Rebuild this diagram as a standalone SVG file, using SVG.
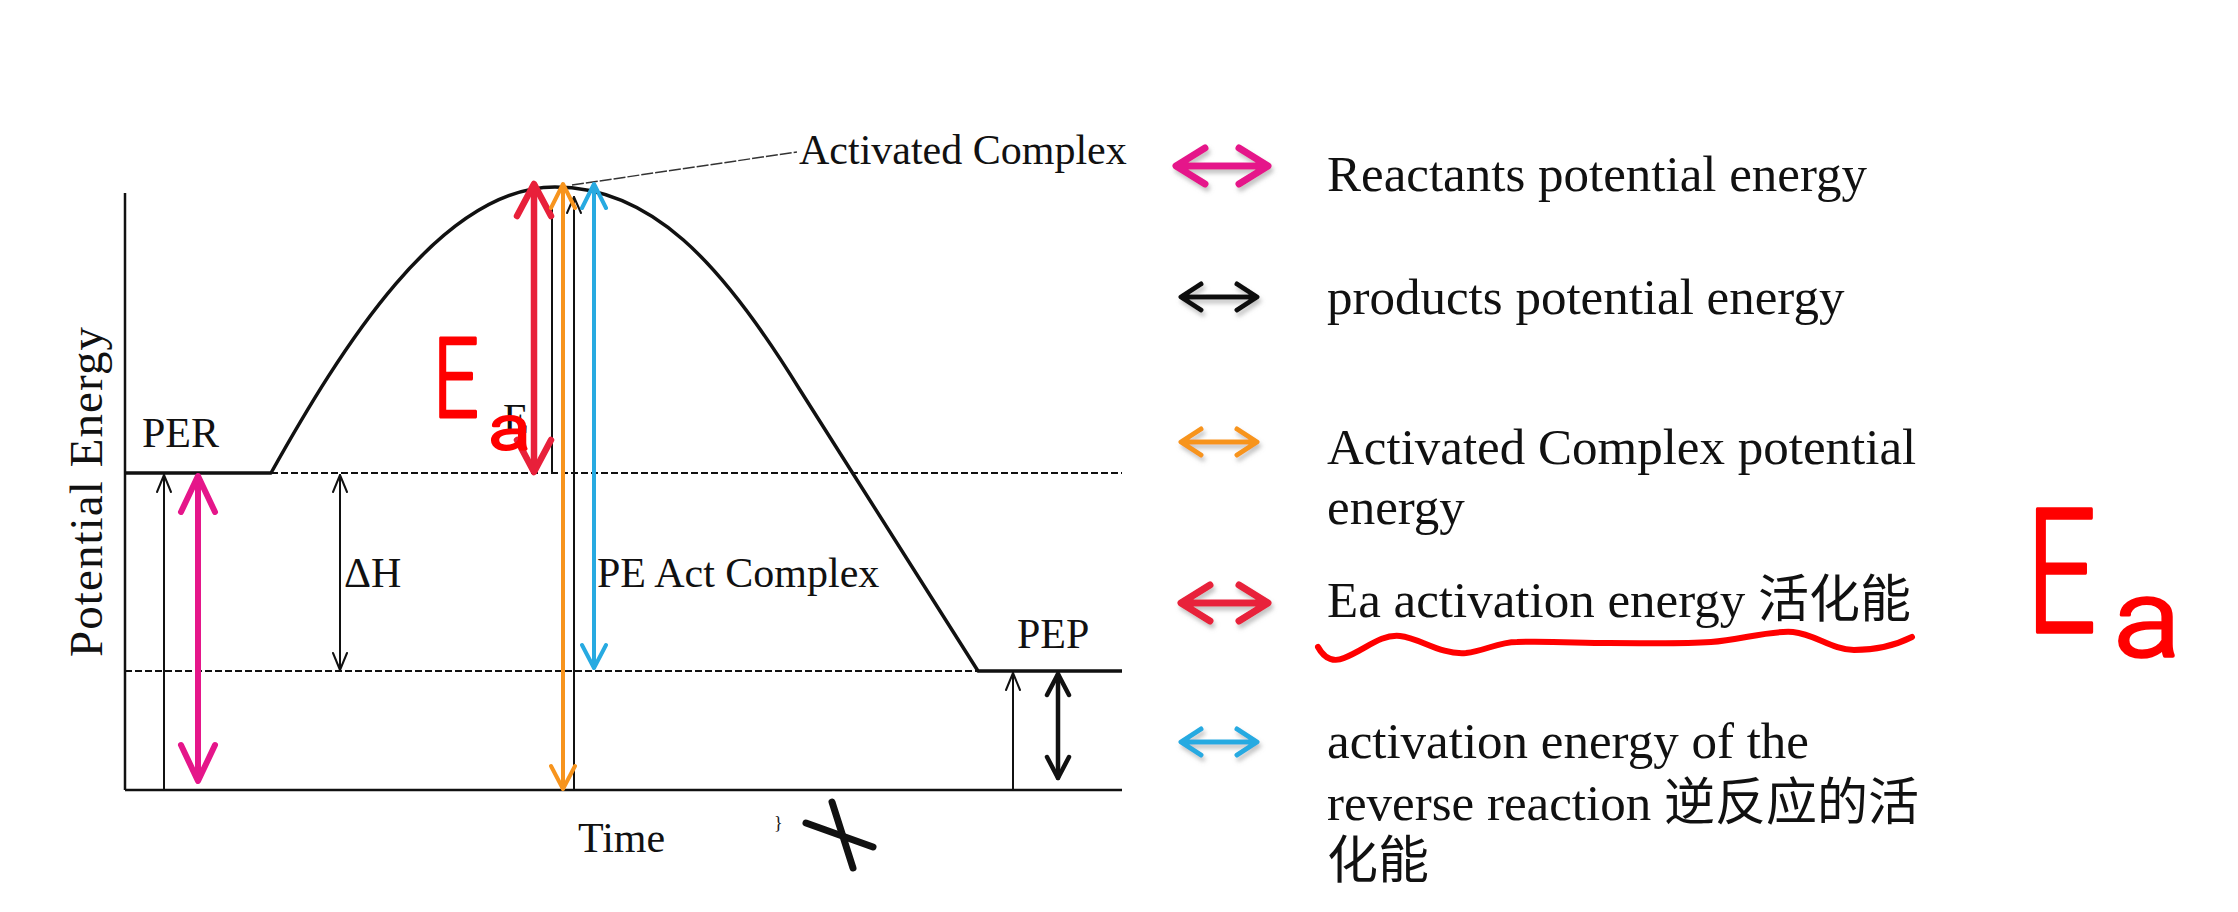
<svg xmlns="http://www.w3.org/2000/svg" width="2238" height="912" viewBox="0 0 2238 912">
<style>
.t{font-family:"Liberation Serif","Noto Sans CJK SC",serif;fill:#111}
.c{font-size:42px}
.lg{font-size:51px}
.hw{font-family:Roboto,"Liberation Sans",sans-serif;font-weight:300;fill:#FF0000;stroke:#FF0000;stroke-linejoin:round}
.ax{stroke:#111;stroke-width:2.5;fill:none}
.dash{stroke:#111;stroke-width:2;stroke-dasharray:7 3;fill:none}
.thin{stroke:#111;stroke-width:2;fill:none;stroke-linecap:round;stroke-linejoin:round}
.ar{fill:none;stroke-linecap:round;stroke-linejoin:round}
</style>
<defs>
<filter id="sh" x="-20%" y="-50%" width="140%" height="200%">
<feDropShadow dx="2" dy="4" stdDeviation="2" flood-color="#888" flood-opacity="0.5"/>
</filter>
</defs>
<rect width="2238" height="912" fill="#fff"/>

<g id="axes">
<line class="ax" x1="125" y1="193" x2="125" y2="790"/>
<line class="ax" x1="125" y1="790" x2="1122" y2="790"/>
</g>

<g id="levels">
<line class="dash" x1="271" y1="473" x2="1122" y2="473"/>
<line class="dash" x1="125" y1="671" x2="978" y2="671"/>
</g>

<g id="curve">
<path d="M125,473 L271,473 C340,350 440,187 555,187 C650,187 720,260 800,390 L978,671 L1122,671" fill="none" stroke="#111" stroke-width="3.5" stroke-linejoin="round"/>
</g>

<g id="connectors">
<line x1="572" y1="185" x2="797" y2="152" stroke="#333" stroke-width="1.5" stroke-dasharray="12 2"/>
<line class="thin" x1="552" y1="208" x2="552" y2="473"/>
<line class="thin" x1="574" y1="197" x2="574" y2="790"/>
<path class="thin" d="M567,213 L574,197 L581,213"/>
<line class="thin" x1="164" y1="475" x2="164" y2="790"/>
<path class="thin" d="M157,492 L164,475 L171,492"/>
<line class="thin" x1="340" y1="475" x2="340" y2="670"/>
<path class="thin" d="M333,492 L340,475 L347,492 M333,653 L340,670 L347,653"/>
<line class="thin" x1="1013" y1="673" x2="1013" y2="790"/>
<path class="thin" d="M1006,690 L1013,673 L1020,690"/>
<g class="ar" stroke="#111" stroke-width="4.5">
<line x1="1058" y1="674" x2="1058" y2="778"/>
<path d="M1047,695 L1058,674 L1069,695 M1047,757 L1058,778 L1069,757"/>
</g>
<g class="ar" stroke="#E5168A" stroke-width="6">
<line x1="198" y1="478" x2="198" y2="779"/>
<path d="M181,512 L198,476 L215,512 M181,745 L198,781 L215,745"/>
</g>
<g class="ar" stroke="#E8203A" stroke-width="6.5">
<line x1="534" y1="186" x2="534" y2="470"/>
<path d="M517,216 L534,184 L551,216 M517,440 L534,472 L551,440"/>
</g>
<g class="ar" stroke="#F7941D" stroke-width="4">
<line x1="563" y1="186" x2="563" y2="788"/>
<path d="M551,208 L563,184 L575,208 M551,766 L563,789 L575,766"/>
</g>
<g class="ar" stroke="#27AAE1" stroke-width="4">
<line x1="594" y1="186" x2="594" y2="667"/>
<path d="M582,208 L594,184 L606,208 M582,645 L594,668 L606,645"/>
</g>
</g>

<g id="chart-labels">
<text class="t c" x="799" y="164">Activated Complex</text>
<text class="t c" x="142" y="447">PER</text>
<text class="t c" x="1017" y="648">PEP</text>
<text class="t c" x="344" y="587">ΔH</text>
<text class="t c" x="597" y="587">PE Act Complex</text>
<text class="t c" x="503" y="433">E</text>
<text class="t c" x="578" y="852">Time</text>
<text class="t" font-size="47" transform="translate(102,657) rotate(-90)" textLength="330">Potential Energy</text>
<text class="t" font-size="18" x="774" y="829">}</text>
</g>

<g id="annotations">
<text class="hw" font-size="112" stroke-width="3" transform="translate(433,417) scale(0.72,1)">E</text>
<text class="hw" font-size="62" stroke-width="3" transform="translate(489,449) scale(1.25,1)">a</text>
<text class="hw" font-size="172" stroke-width="3.5" transform="translate(2026,632) scale(0.72,1)">E</text>
<text class="hw" font-size="108" stroke-width="3.5" transform="translate(2114,656) scale(1.15,1)">a</text>
<path d="M1318,647 C1325,660 1335,662 1344,658 C1365,650 1380,634 1400,636 C1420,638 1440,655 1466,653 C1485,651 1498,642 1517,642 C1550,641 1580,643 1609,643 C1650,643 1680,644 1711,642 C1740,640 1770,630 1793,632 C1815,634 1832,650 1854,650 C1880,650 1900,643 1912,637" fill="none" stroke="#FF0000" stroke-width="6" stroke-linecap="round"/>
<line x1="806" y1="823" x2="873" y2="847" stroke="#111" stroke-width="7" stroke-linecap="round"/>
<line x1="832" y1="802" x2="853" y2="868" stroke="#111" stroke-width="7" stroke-linecap="round"/>
</g>

<g id="legend-1">
<g class="ar" stroke="#E5168A" stroke-width="7" filter="url(#sh)">
<path d="M1178,166 L1266,166 M1205,148 L1176,166 L1205,184 M1239,148 L1268,166 L1239,184"/>
</g>
<text class="t lg" x="1327" y="191">Reactants potential energy</text>
</g>
<g id="legend-2">
<g class="ar" stroke="#111" stroke-width="5" filter="url(#sh)">
<path d="M1183,297 L1255,297 M1201,284 L1181,297 L1201,310 M1237,284 L1257,297 L1237,310"/>
</g>
<text class="t lg" x="1327" y="314">products potential energy</text>
</g>
<g id="legend-3">
<g class="ar" stroke="#F7941D" stroke-width="5" filter="url(#sh)">
<path d="M1183,442 L1255,442 M1201,429 L1181,442 L1201,455 M1237,429 L1257,442 L1237,455"/>
</g>
<text class="t lg" x="1327" y="464">Activated Complex potential</text>
<text class="t lg" x="1327" y="524">energy</text>
</g>
<g id="legend-4">
<g class="ar" stroke="#E8203A" stroke-width="7" filter="url(#sh)">
<path d="M1183,603 L1266,603 M1210,585 L1181,603 L1210,621 M1239,585 L1268,603 L1239,621"/>
</g>
<text class="t lg" x="1327" y="617">Ea activation energy 活化能</text>
</g>
<g id="legend-5">
<g class="ar" stroke="#27AAE1" stroke-width="5" filter="url(#sh)">
<path d="M1183,742 L1255,742 M1201,729 L1181,742 L1201,755 M1237,729 L1257,742 L1237,755"/>
</g>
<text class="t lg" x="1327" y="758">activation energy of the</text>
<text class="t lg" x="1327" y="820">reverse reaction 逆反应的活</text>
<text class="t lg" x="1327" y="878">化能</text>
</g>
</svg>
